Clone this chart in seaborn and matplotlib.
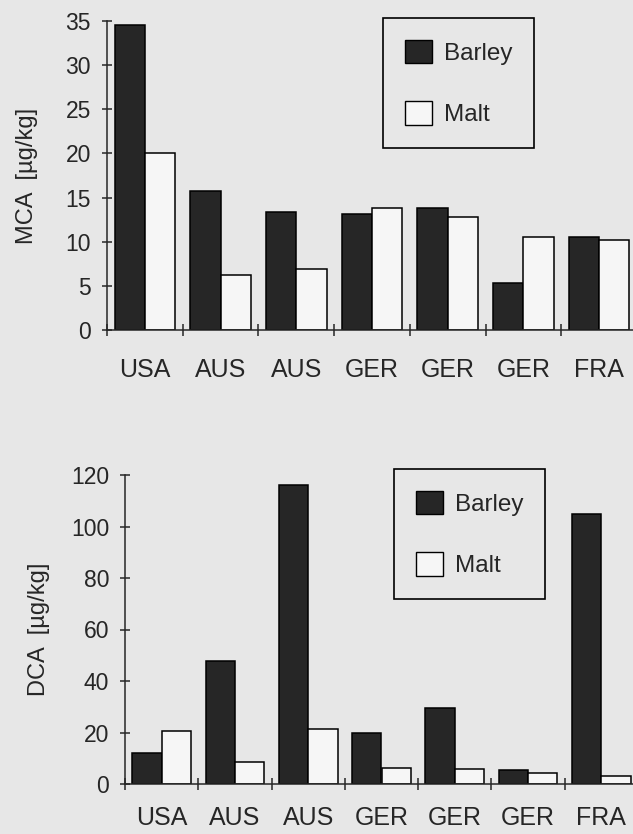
import numpy as np
import pandas as pd
import matplotlib
matplotlib.use("Agg")
import matplotlib.pyplot as plt
from matplotlib.patches import Patch
from matplotlib.ticker import FixedLocator
import seaborn as sns

# data
origin = ["USA", "AUS", "AUS", "GER", "GER", "GER", "FRA"]
grains = ["Barley", "Malt"]
mca_barley = [34.5, 15.8, 13.4, 13.1, 13.8, 5.3, 10.5]
mca_malt = [20.1, 6.2, 6.9, 13.8, 12.8, 10.5, 10.2]
dca_barley = [12.1, 47.7, 116.0, 19.7, 29.6, 5.4, 105.0]
dca_malt = [20.5, 8.4, 21.5, 6.2, 6.0, 4.2, 3.1]

bg = "#e7e7e7"
dark = "#262626"
light = "#f6f6f6"

sns.set_style("ticks")
plt.rcParams["font.family"] = ["Liberation Sans", "DejaVu Sans"]
plt.rcParams["axes.linewidth"] = 1.1


def long_form(barley, malt):
    sample = [f"s{i}" for i in range(len(origin))]
    df = pd.DataFrame({"sample": sample * 2,
                       "grain": ["Barley"] * len(barley) + ["Malt"] * len(malt),
                       "value": barley + malt})
    return df


def draw(ax, df, ymax, ystep, ylabel, label_x, leg_xy, xpad):
    sns.barplot(data=df, x="sample", y="value", hue="grain", hue_order=grains,
                palette=[dark, light], edgecolor="black", linewidth=1.1,
                width=0.8, legend=False, ax=ax)
    ax.set_facecolor("none")
    ax.set_xlim(-0.5, 6.5)
    ax.set_ylim(0, ymax)
    ax.set_yticks(np.arange(0, ymax + 1, ystep))
    ax.set_xticks(range(len(origin)))
    ax.set_xticklabels(origin, fontsize=18)
    ax.xaxis.set_minor_locator(FixedLocator(np.arange(-0.5, 7, 1)))
    ax.tick_params(axis="x", which="major", length=0, pad=xpad)
    ax.tick_params(axis="x", which="minor", direction="inout", length=8, width=1.1)
    ax.tick_params(axis="y", direction="inout", length=7, width=1.1,
                   labelsize=16.5, pad=8)
    ax.set_xlabel("")
    ax.set_ylabel(ylabel, fontsize=17)
    ax.yaxis.set_label_coords(label_x, 0.5)
    sns.despine(ax=ax)
    handles = [Patch(facecolor=dark, edgecolor="black", linewidth=1.0),
               Patch(facecolor=light, edgecolor="black", linewidth=1.0)]
    leg = ax.legend(handles, grains, loc="upper left", bbox_to_anchor=leg_xy,
                    bbox_transform=fig.transFigure, fontsize=17.5,
                    handlelength=1.1, handleheight=1.1, handletextpad=0.5,
                    labelspacing=1.5, borderpad=0.9, borderaxespad=0,
                    fancybox=False, frameon=True, edgecolor="black",
                    facecolor=bg, framealpha=1)
    leg.get_frame().set_linewidth(1.2)


fig = plt.figure(figsize=(6.33, 8.34), dpi=100, facecolor=bg)
ax1 = fig.add_axes([107 / 633, 504 / 834, 530 / 633, 309 / 834])
ax2 = fig.add_axes([125 / 633, 50 / 834, 513 / 633, 309 / 834])

draw(ax1, long_form(mca_barley, mca_malt), 35, 5, "MCA  [µg/kg]",
     (38 - 107) / 530, (383 / 633, 1 - 18 / 834), 20)
draw(ax2, long_form(dca_barley, dca_malt), 120, 20, "DCA  [µg/kg]",
     (50 - 125) / 513, (394 / 633, 1 - 469 / 834), 16)

fig.savefig("out.png", dpi=100, facecolor=bg)
